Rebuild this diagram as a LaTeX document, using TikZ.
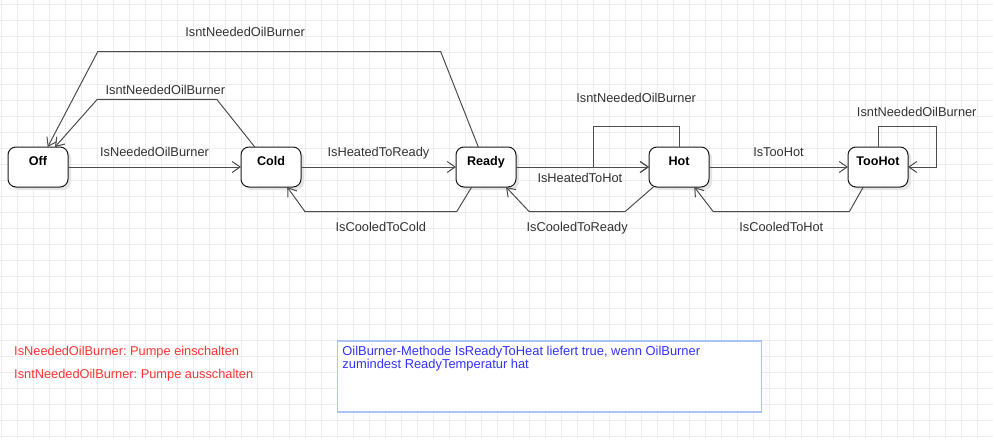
\documentclass[tikz,border=0pt]{standalone}
\usepackage{fontspec}
\setmainfont{Liberation Sans}
\usetikzlibrary{positioning, arrows.meta, shadows}
\definecolor{gridgray}{HTML}{EDEDED}
\definecolor{edgegray}{HTML}{4D4D4D}
\definecolor{notered}{HTML}{FF3333}
\definecolor{noteblue}{HTML}{3333FF}
\definecolor{noteframe}{HTML}{A9C4F5}
\frenchspacing

\begin{document}
\begin{tikzpicture}[x=1pt, y=-1pt,
                state/.style={draw=black!90, line width=1pt, rectangle, rounded corners=8pt, fill=white, minimum width=60pt, minimum height=40pt, text height=10pt, text depth=14pt, inner ysep=8pt, inner xsep=2pt, outer sep=0pt, font=\fontsize{12.6}{14}\selectfont\bfseries, general shadow={fill=black!10, shadow xshift=3pt, shadow yshift=-3pt}},
                edge/.style={draw=edgegray, line width=1pt, -{Straight Barb[length=8pt, width=11pt]}},
                edgelabel/.style={font=\fontsize{12.8}{14}\selectfont, text=black!80, text height=9.5pt, text depth=3pt, inner sep=1pt},
                gridline/.style={draw=gridgray, line width=1pt},
                pumpnote/.style={font=\fontsize{12.8}{14}\selectfont, text=notered, inner sep=0pt, anchor=base west},
                notebox/.style={draw=noteframe, line width=1.5pt, fill=white, minimum width=424pt, minimum height=71pt, inner sep=0pt, anchor=north west},
                notetext/.style={font=\fontsize{12.9}{12.7}\selectfont, text=noteblue, align=left, inner sep=0pt, anchor=north west}
            ]

            % Hintergrund und Raster
            \fill[white] (0,0) rectangle (993,439);
            \useasboundingbox (0,0) rectangle (993,439);
            \foreach \gx in {0,...,61} \draw[gridline] (1.3+16*\gx,0) -- (1.3+16*\gx,439);
            \foreach \gy in {0,...,27} \draw[gridline] (0,4.3+16*\gy) -- (993,4.3+16*\gy);

            % Zustaende
            \node[state] (off) at (38,167) {Off};
            \node[state, right=173pt of off] (cold) {Cold};
            \node[state, right=155pt of cold] (ready) {Ready};
            \node[state, right=133pt of ready] (hot) {Hot};
            \node[state, right=139pt of hot] (toohot) {TooHot};

            % Hilfspunkte fuer Schleifen
            \coordinate (hotloop) at (593.3,126.7);
            \coordinate (toohotloop) at (936.7,126.7);

            % Uebergaenge
            \draw[edge] (off) -- (cold) node[midway, above=6pt, edgelabel] {IsNeededOilBurner};
            \draw[edge] (cold) -- (ready) node[midway, above=6pt, edgelabel] {IsHeatedToReady};
            \draw[edge] (ready) -- (hot) node[pos=0.48, below=4pt, edgelabel] {IsHeatedToHot};
            \draw[edge] (hot) -- (toohot) node[midway, above=6pt, edgelabel] {IsTooHot};
            \draw[edge] ([xshift=-16.2pt]cold.north) -- (216.7,99.3) -- (97.3,99.3) node[pos=0.43, above=0pt, edgelabel] {IsntNeededOilBurner} -- ([xshift=17pt]off.north);
            \draw[edge] ([xshift=-7.7pt]ready.north) -- (440.7,51.7) -- (97.7,51.7) node[pos=0.57, above=11pt, edgelabel] {IsntNeededOilBurner} -- ([xshift=9.7pt]off.north);
            \draw[edge] ([xshift=-14.3pt]ready.south) -- (456.7,211.7) -- (305,211.7) node[midway, below=8.3pt, edgelabel] {IsCooledToCold} -- ([xshift=16.2pt]cold.south);
            \draw[edge] ([xshift=-25.7pt]hot.south) -- (625,211.7) -- (529.3,211.7) node[midway, below=8.3pt, edgelabel] {IsCooledToReady} -- ([xshift=20pt]ready.south);
            \draw[edge] ([xshift=-14.7pt]toohot.south) -- (849.3,211.7) -- (713.3,211.7) node[midway, below=8.3pt, edgelabel] {IsCooledToHot} -- ([xshift=15.3pt]hot.south);
            \draw[edge] (hot.north) |- (hotloop) node[pos=0.75, above=20pt, edgelabel] {IsntNeededOilBurner} |- (hot.west);
            \draw[edge] (toohot.north) |- (toohotloop) node[pos=0.83, above=5.4pt, edgelabel] {IsntNeededOilBurner} |- (toohot.east);

            % Notizen
            \node[pumpnote] (pumpon) at (14,355) {IsNeededOilBurner: Pumpe einschalten};
            \node[pumpnote] (pumpoff) at ([yshift=-23.7pt]pumpon.base west) {IsntNeededOilBurner: Pumpe ausschalten};
            \node[notebox] (note) at (336.7,340) {};
            \node[notetext] (notetxt) at ([xshift=5.5pt, yshift=-6pt]note.north west) {OilBurner-Methode IsReadyToHeat liefert true, wenn OilBurner\\zumindest ReadyTemperatur hat};

        \end{tikzpicture}
\end{document}
